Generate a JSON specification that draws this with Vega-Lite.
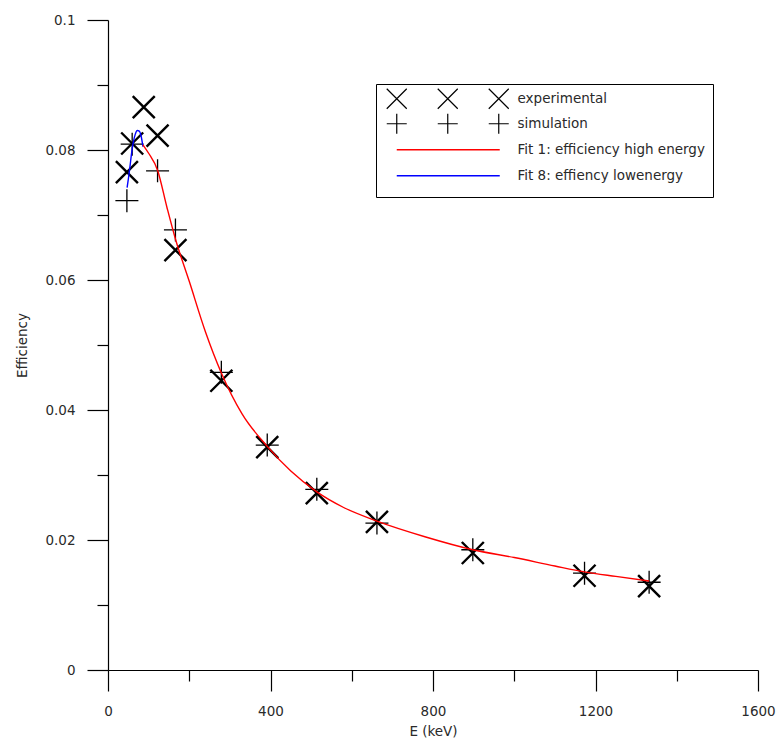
{
  "$schema": "https://vega.github.io/schema/vega-lite/v6.json",
  "width": 650,
  "height": 650,
  "autosize": {"type": "none"},
  "padding": {"left": 108, "top": 20, "right": 20, "bottom": 70},
  "background": "white",
  "config": {
    "view": {"stroke": null},
    "font": "DejaVu Sans",
    "axis": {
      "domainColor": "black",
      "tickColor": "black",
      "domainWidth": 1.2,
      "tickWidth": 1.2,
      "labelFont": "DejaVu Sans",
      "labelFontSize": 13.5,
      "labelColor": "#2a2a2a",
      "titleFont": "DejaVu Sans",
      "titleFontSize": 13.5,
      "titleFontWeight": "normal",
      "titleColor": "#2a2a2a",
      "grid": false
    }
  },
  "datasets": {
    "measurements": [
      {"series": "experimental", "E": 46.5, "eff": 0.0766},
      {"series": "experimental", "E": 59.5, "eff": 0.0810},
      {"series": "experimental", "E": 88, "eff": 0.0866},
      {"series": "experimental", "E": 122, "eff": 0.0822},
      {"series": "experimental", "E": 166, "eff": 0.0646},
      {"series": "experimental", "E": 279, "eff": 0.0445},
      {"series": "experimental", "E": 392, "eff": 0.0343},
      {"series": "experimental", "E": 514, "eff": 0.0272},
      {"series": "experimental", "E": 662, "eff": 0.0228},
      {"series": "experimental", "E": 898, "eff": 0.0180},
      {"series": "experimental", "E": 1173, "eff": 0.0145},
      {"series": "experimental", "E": 1332, "eff": 0.0129},
      {"series": "simulation", "E": 46.5, "eff": 0.0722},
      {"series": "simulation", "E": 59.5, "eff": 0.0809},
      {"series": "simulation", "E": 122, "eff": 0.0768},
      {"series": "simulation", "E": 166, "eff": 0.0677},
      {"series": "simulation", "E": 279, "eff": 0.0458},
      {"series": "simulation", "E": 392, "eff": 0.0346},
      {"series": "simulation", "E": 514, "eff": 0.0278},
      {"series": "simulation", "E": 662, "eff": 0.0226},
      {"series": "simulation", "E": 898, "eff": 0.0185},
      {"series": "simulation", "E": 1173, "eff": 0.0149},
      {"series": "simulation", "E": 1332, "eff": 0.0135}
    ],
    "fits": [
      {"series": "Fit 8: effiency lowenergy", "E": 47, "eff": 0.0742},
      {"series": "Fit 8: effiency lowenergy", "E": 50, "eff": 0.0755},
      {"series": "Fit 8: effiency lowenergy", "E": 54, "eff": 0.0774},
      {"series": "Fit 8: effiency lowenergy", "E": 58, "eff": 0.0795},
      {"series": "Fit 8: effiency lowenergy", "E": 62, "eff": 0.0811},
      {"series": "Fit 8: effiency lowenergy", "E": 67, "eff": 0.0824},
      {"series": "Fit 8: effiency lowenergy", "E": 72, "eff": 0.0830},
      {"series": "Fit 8: effiency lowenergy", "E": 77, "eff": 0.0829},
      {"series": "Fit 8: effiency lowenergy", "E": 82, "eff": 0.0820},
      {"series": "Fit 8: effiency lowenergy", "E": 86, "eff": 0.0805},
      {"series": "Fit 1: efficiency high energy", "E": 86, "eff": 0.0808},
      {"series": "Fit 1: efficiency high energy", "E": 100, "eff": 0.0795},
      {"series": "Fit 1: efficiency high energy", "E": 122, "eff": 0.0769},
      {"series": "Fit 1: efficiency high energy", "E": 145, "eff": 0.0712},
      {"series": "Fit 1: efficiency high energy", "E": 166, "eff": 0.0663},
      {"series": "Fit 1: efficiency high energy", "E": 200, "eff": 0.0598},
      {"series": "Fit 1: efficiency high energy", "E": 240, "eff": 0.0520},
      {"series": "Fit 1: efficiency high energy", "E": 279, "eff": 0.0457},
      {"series": "Fit 1: efficiency high energy", "E": 330, "eff": 0.0394},
      {"series": "Fit 1: efficiency high energy", "E": 392, "eff": 0.0344},
      {"series": "Fit 1: efficiency high energy", "E": 450, "eff": 0.0306},
      {"series": "Fit 1: efficiency high energy", "E": 514, "eff": 0.0274},
      {"series": "Fit 1: efficiency high energy", "E": 580, "eff": 0.0250},
      {"series": "Fit 1: efficiency high energy", "E": 662, "eff": 0.0229},
      {"series": "Fit 1: efficiency high energy", "E": 780, "eff": 0.0205},
      {"series": "Fit 1: efficiency high energy", "E": 898, "eff": 0.0185},
      {"series": "Fit 1: efficiency high energy", "E": 1000, "eff": 0.0173},
      {"series": "Fit 1: efficiency high energy", "E": 1100, "eff": 0.0160},
      {"series": "Fit 1: efficiency high energy", "E": 1173, "eff": 0.0151},
      {"series": "Fit 1: efficiency high energy", "E": 1250, "eff": 0.0144},
      {"series": "Fit 1: efficiency high energy", "E": 1332, "eff": 0.0137}
    ]
  },
  "resolve": {"axis": {"x": "independent", "y": "independent"}},
  "layer": [
    {
      "data": {"name": "measurements"},
      "transform": [{"filter": "datum.series === 'experimental'"}],
      "mark": {"type": "point", "shape": "M-1,-1L1,1M-1,1L1,-1", "filled": false, "size": 484, "strokeWidth": 2.4, "opacity": 1},
      "encoding": {
        "x": {
          "field": "E", "type": "quantitative",
          "scale": {"domain": [0, 1600], "nice": false, "zero": false},
          "axis": {"orient": "bottom", "title": "E (keV)", "values": [0, 400, 800, 1200, 1600], "format": "d", "tickSize": 21, "labelPadding": 13, "titlePadding": 7, "labelFlush": false, "labelOverlap": false}
        },
        "y": {
          "field": "eff", "type": "quantitative",
          "scale": {"domain": [0, 0.1], "nice": false, "zero": false},
          "axis": {"orient": "left", "title": "Efficiency", "values": [0, 0.02, 0.04, 0.06, 0.08, 0.1], "format": ".2~f", "tickSize": 21, "labelPadding": 12, "titlePadding": 15, "labelFlush": false, "labelOverlap": false}
        },
        "color": {
          "field": "series", "type": "nominal",
          "scale": {
            "domain": ["experimental", "simulation", "Fit 1: efficiency high energy", "Fit 8: effiency lowenergy"],
            "range": ["black", "black", "#ff0000", "#0000ff"]
          },
          "legend": {
            "title": null,
            "orient": "none",
            "legendX": 268,
            "legendY": 64,
            "direction": "vertical",
            "padding": 8,
            "strokeColor": "black",
            "fillColor": "white",
            "symbolSize": 100,
            "symbolOffset": 6,
            "labelOffset": 114,
            "rowPadding": -1,
            "labelFont": "DejaVu Sans",
            "labelFontSize": 13.5,
            "labelColor": "#2a2a2a",
            "labelLimit": 400,
            "symbolType": {"expr": "datum.value === 'experimental' ? 'M-2,-2L2,2M-2,2L2,-2M8.2,-2L12.2,2M8.2,2L12.2,-2M18.4,-2L22.4,2M18.4,2L22.4,-2' : datum.value === 'simulation' ? 'M-2,0L2,0M0,-2L0,2M8.2,0L12.2,0M10.2,-2L10.2,2M18.4,0L22.4,0M20.4,-2L20.4,2' : 'M0,-2M0,2M0,0L20.6,0'"},
            "symbolStrokeWidth": {"expr": "datum.value === 'experimental' || datum.value === 'simulation' ? 1.2 : 1.6"}
          }
        }
      }
    },
    {
      "data": {"name": "measurements"},
      "transform": [{"filter": "datum.series === 'simulation'"}],
      "mark": {"type": "point", "shape": "M-1,0L1,0M0,-1L0,1", "filled": false, "size": 529, "strokeWidth": 1.3, "opacity": 1},
      "encoding": {
        "x": {
          "field": "E", "type": "quantitative",
          "axis": {"orient": "bottom", "title": null, "values": [200, 600, 1000, 1400], "tickSize": 11, "labels": false, "domain": false}
        },
        "y": {
          "field": "eff", "type": "quantitative",
          "axis": {"orient": "left", "title": null, "values": [0.01, 0.03, 0.05, 0.07, 0.09], "tickSize": 11, "labels": false, "domain": false}
        },
        "color": {"field": "series", "type": "nominal"}
      }
    },
    {
      "data": {"name": "fits"},
      "mark": {"type": "line", "strokeWidth": 1.4, "interpolate": "monotone"},
      "encoding": {
        "x": {"field": "E", "type": "quantitative", "axis": null},
        "y": {"field": "eff", "type": "quantitative", "axis": null},
        "color": {"field": "series", "type": "nominal"},
        "detail": {"field": "series"}
      }
    }
  ]
}
